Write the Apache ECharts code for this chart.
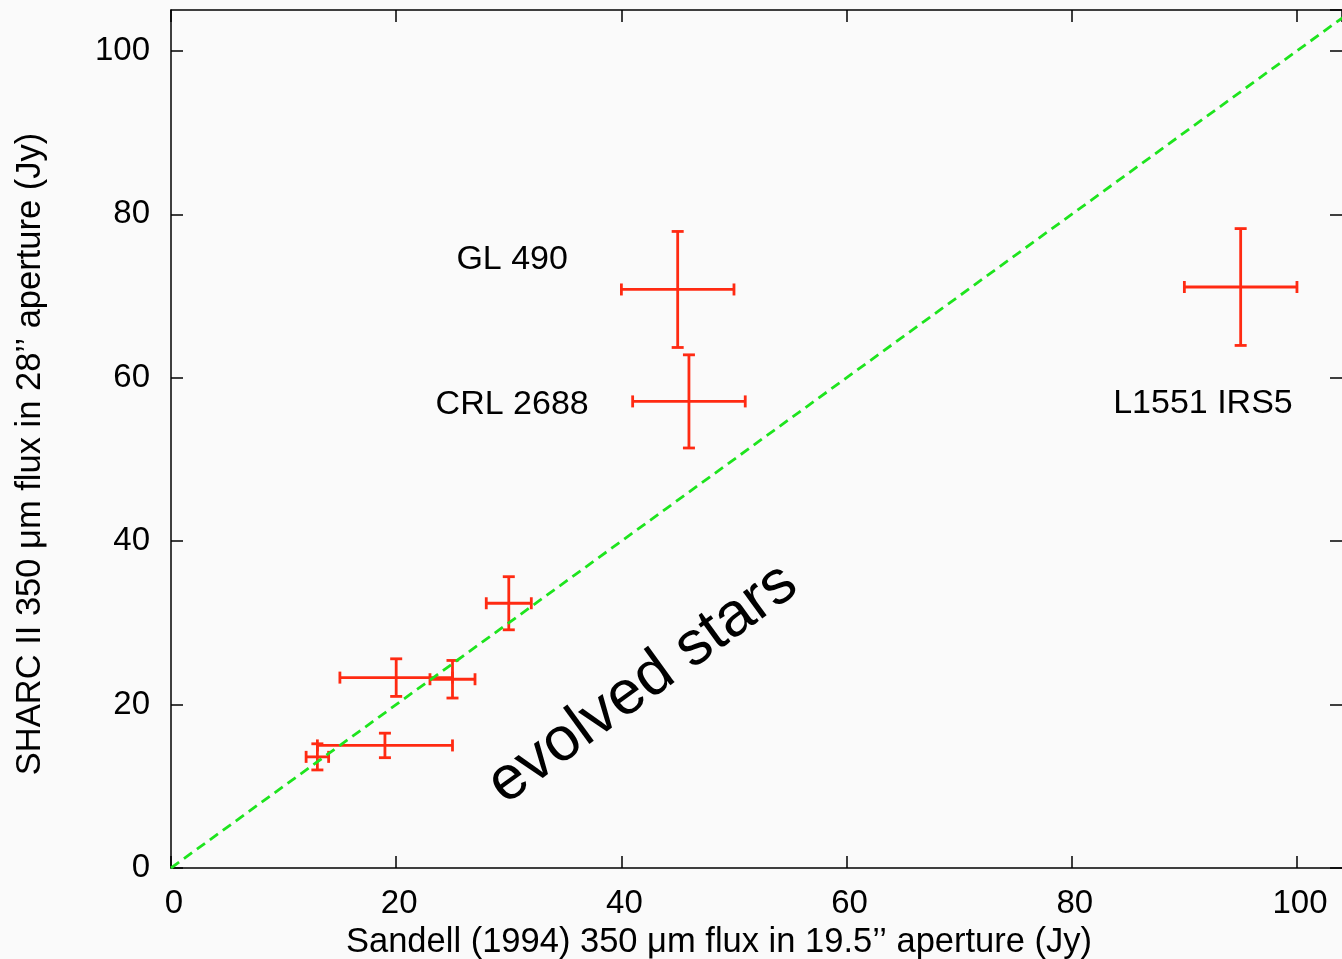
<!DOCTYPE html>
<html>
<head>
<meta charset="utf-8">
<script src="https://cdn.jsdelivr.net/npm/echarts@6/dist/echarts.min.js"></script>
<style>
html,body{margin:0;padding:0;background:#fafafa;}
#chart{width:1342px;height:959px;}
</style>
</head>
<body>
<div id="chart"></div>
<script>
// ---- data ----
const xVals = [45, 46, 95, 30, 20, 25, 19, 13];
const yVals = [70.8, 57.1, 71.1, 32.4, 23.3, 23.1, 15.0, 13.6];
const xErr  = [5, 5, 5, 2, 5, 2, 6, 1];
const yErr  = [7.1, 5.7, 7.15, 3.25, 2.3, 2.3, 1.5, 1.6];

const equalityLine = [[0, 0], [105, 105]];

const annText = ['GL 490', 'CRL 2688', 'L1551 IRS5'];
const annX = [30.3, 30.3, 91.65];
const annY = [74.4, 56.7, 56.8];

const bigText = ['evolved stars'];
const bigX = [41.9];
const bigY = [22.5];

const xTitle = 'Sandell (1994) 350 \u03bcm flux in 19.5\u2019\u2019 aperture (Jy)';
const yTitle = 'SHARC II 350 \u03bcm flux in 28\u2019\u2019 aperture (Jy)';

// ---- chart ----
const FONT = '"Liberation Sans", Arial, Helvetica, sans-serif';
const chart = echarts.init(document.getElementById('chart'), null, {renderer: 'canvas'});

const errData = xVals.map((x, i) => [x, yVals[i], xErr[i], yErr[i]]);
const annData = annX.map((x, i) => [x, annY[i], annText[i]]);
const bigData = bigX.map((x, i) => [x, bigY[i], bigText[i]]);

const RED = '#ff2a12';
const CAP = 6;

function renderErr(params, api) {
  const x = api.value(0), y = api.value(1), ex = api.value(2), ey = api.value(3);
  const l = api.coord([x - ex, y]);
  const r = api.coord([x + ex, y]);
  const t = api.coord([x, y + ey]);
  const b = api.coord([x, y - ey]);
  const st = {stroke: RED, lineWidth: 2.8, fill: null};
  const ln = (x1, y1, x2, y2) => ({type: 'line', shape: {x1, y1, x2, y2}, style: st});
  return {
    type: 'group',
    children: [
      ln(l[0], l[1], r[0], r[1]),
      ln(l[0], l[1] - CAP, l[0], l[1] + CAP),
      ln(r[0], r[1] - CAP, r[0], r[1] + CAP),
      ln(t[0], t[1], b[0], b[1]),
      ln(t[0] - CAP, t[1], t[0] + CAP, t[1]),
      ln(b[0] - CAP, b[1], b[0] + CAP, b[1])
    ]
  };
}

const axisLineStyle = {color: '#000', width: 1.5};
const tickStyle = {color: '#000', width: 1.5};
const fmt = v => (Math.abs(v % 20) < 1e-9 ? String(v) : '');
const X_MAX = 104.0;

const option = {
  backgroundColor: '#fafafa',
  animation: false,
  grid: {left: 171, top: 10, width: 1171, height: 858, containLabel: false},
  xAxis: [
    {
      type: 'value', position: 'bottom', min: 0, max: X_MAX, interval: 20,
      axisLine: {show: true, onZero: false, lineStyle: axisLineStyle},
      axisTick: {show: true, inside: true, length: 12, lineStyle: tickStyle},
      axisLabel: {show: true, formatter: fmt, fontSize: 33, color: '#000', fontFamily: FONT, margin: 19, padding: [0, 0, 0, 6], showMaxLabel: false},
      splitLine: {show: false}
    },
    {
      type: 'value', position: 'top', min: 0, max: X_MAX, interval: 20,
      axisLine: {show: true, onZero: false, lineStyle: axisLineStyle},
      axisTick: {show: true, inside: true, length: 12, lineStyle: tickStyle},
      axisLabel: {show: false},
      splitLine: {show: false}
    }
  ],
  yAxis: [
    {
      type: 'value', position: 'left', min: 0, max: 105, interval: 20,
      axisLine: {show: true, onZero: false, lineStyle: axisLineStyle},
      axisTick: {show: true, inside: true, length: 12, lineStyle: tickStyle},
      axisLabel: {show: true, formatter: fmt, fontSize: 33, color: '#000', fontFamily: FONT, margin: 21, showMaxLabel: false},
      splitLine: {show: false}
    },
    {
      type: 'value', position: 'right', min: 0, max: 105, interval: 20,
      axisLine: {show: false, onZero: false},
      axisTick: {show: true, inside: true, length: 12, lineStyle: tickStyle},
      axisLabel: {show: false},
      splitLine: {show: false}
    }
  ],
  graphic: [
    {
      type: 'text', x: 719, y: 942,
      style: {text: xTitle, fill: '#000', font: '34.5px ' + FONT, textAlign: 'center', textVerticalAlign: 'middle'}
    },
    {
      type: 'text', x: 30, y: 454, rotation: Math.PI / 2,
      style: {text: yTitle, fill: '#000', font: '34.5px ' + FONT, textAlign: 'center', textVerticalAlign: 'middle'}
    }
  ],
  series: [
    {
      name: 'errors', type: 'custom', xAxisIndex: 0, yAxisIndex: 0,
      renderItem: renderErr, data: errData, encode: {x: 0, y: 1}, z: 2
    },
    {
      name: 'y = x', type: 'line', xAxisIndex: 0, yAxisIndex: 0,
      data: equalityLine, showSymbol: false, symbol: 'none', clip: true,
      lineStyle: {color: '#1ee41e', width: 2.8, type: [10, 6]}, z: 3
    },
    {
      name: 'labels', type: 'scatter', xAxisIndex: 0, yAxisIndex: 0,
      data: annData, symbolSize: 0, z: 4,
      itemStyle: {opacity: 1},
      label: {show: true, position: 'inside', formatter: p => p.data[2], fontSize: 34, color: '#000', opacity: 1, fontFamily: FONT, align: 'center', verticalAlign: 'middle'}
    },
    {
      name: 'big', type: 'scatter', xAxisIndex: 0, yAxisIndex: 0,
      data: bigData, symbolSize: 0, z: 4,
      itemStyle: {opacity: 1},
      label: {show: true, position: 'inside', formatter: p => p.data[2], fontSize: 62, color: '#000', opacity: 1, fontFamily: FONT, rotate: 36, align: 'center', verticalAlign: 'middle'}
    }
  ]
};
chart.setOption(option);
</script>
</body>
</html>
